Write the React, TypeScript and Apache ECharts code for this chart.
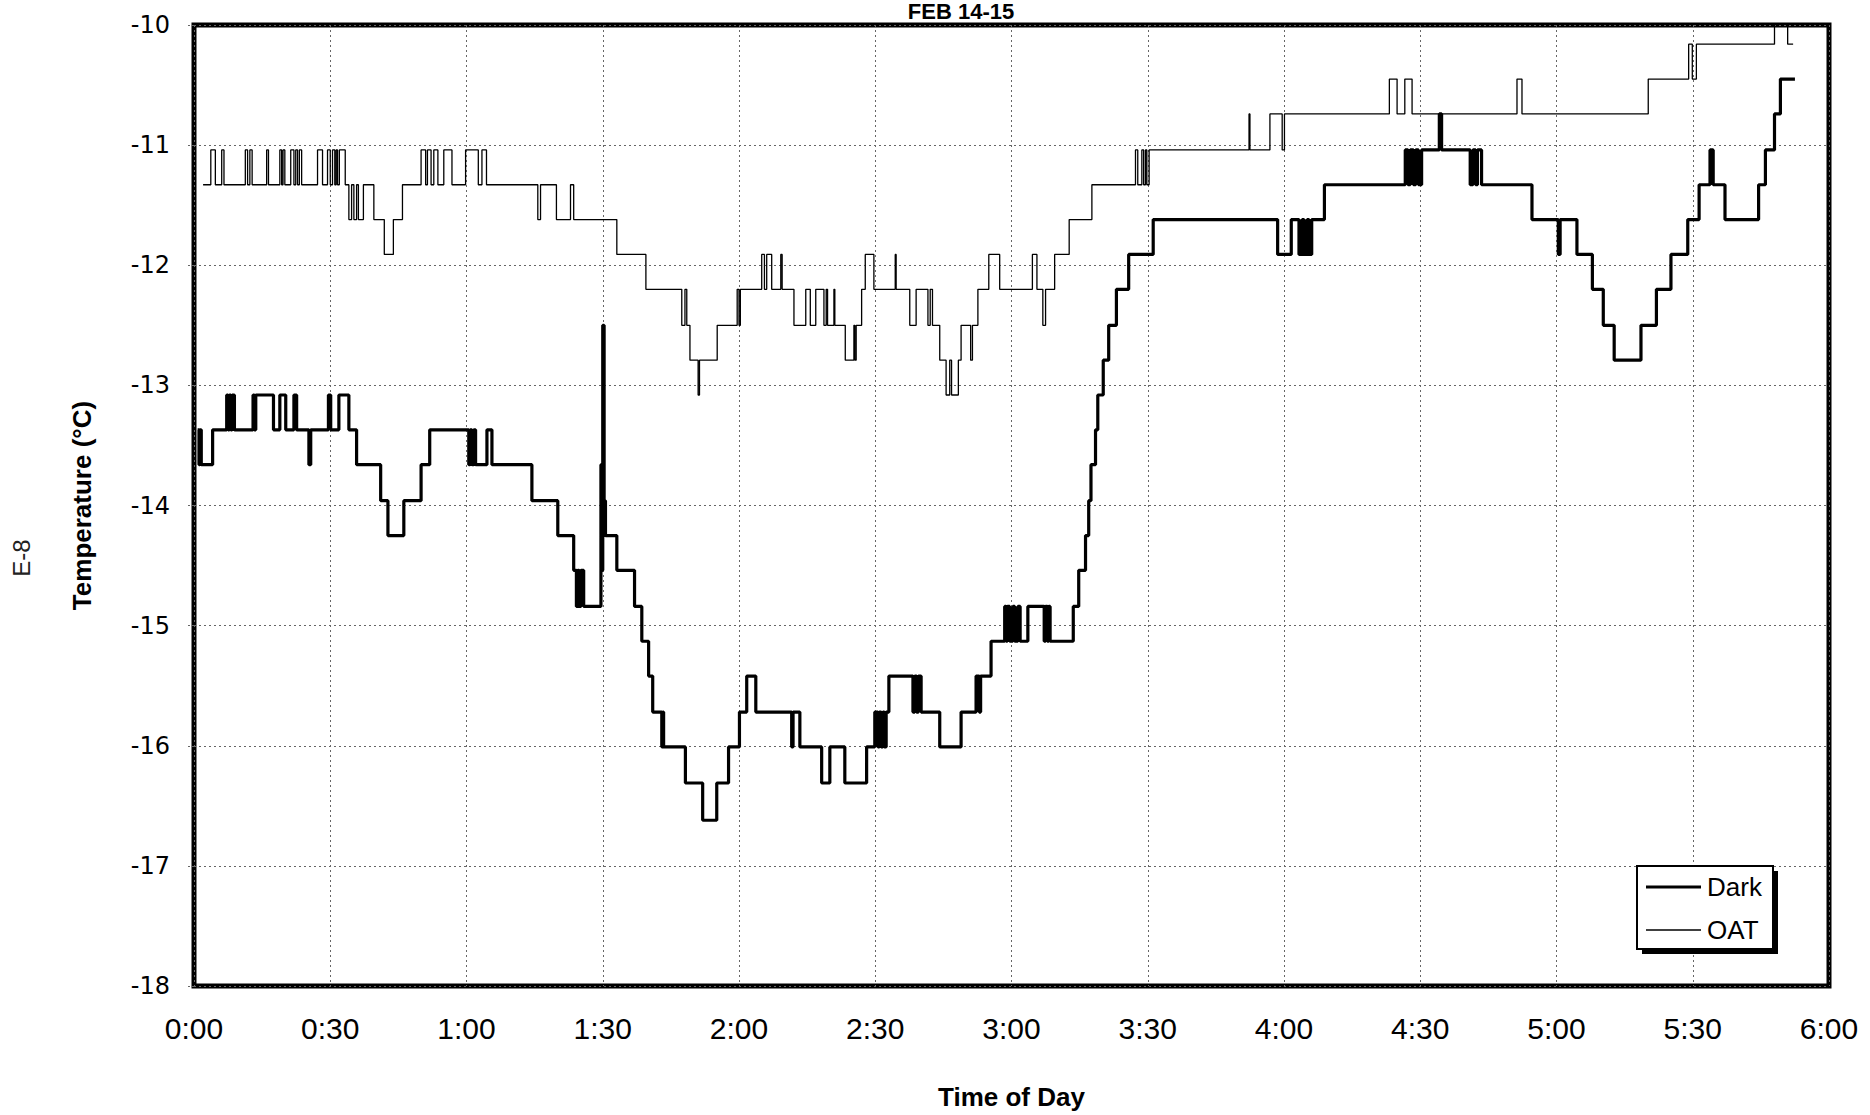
import React, { useEffect, useRef } from "react";
import * as echarts from "echarts";

// ---- data (time in minutes after 0:00, temperature in °C) ----
const xTickLabels = ["0:00", "0:30", "1:00", "1:30", "2:00", "2:30", "3:00", "3:30", "4:00", "4:30", "5:00", "5:30", "6:00"];

const darkTime = [
  0.8, 1.1, 1.3, 1.6, 4.1,
  7.2, 7.5, 7.8, 8.1, 8.4, 8.9,
  13.0, 13.3, 13.6, 17.5, 18.9, 20.2, 22.0, 22.6, 25.3, 25.7,
  29.6, 30.1, 31.9, 34.1, 35.8, 41.1, 42.7, 46.2, 50.0, 51.9,
  60.5, 60.8, 61.2, 61.6, 62.0, 64.5, 65.6, 74.4, 80.1,
  83.6, 84.2, 84.5, 84.8, 85.2, 85.8,
  89.6, 89.8, 90.0, 90.3, 90.6, 93.1, 97.0, 98.6, 100.1, 101.0,
  103.0, 103.2, 103.4, 108.2, 112.0, 115.1, 117.7, 120.1, 121.7, 123.7,
  131.6, 131.9, 133.4, 138.2, 140.0, 143.3, 148.1,
  149.9, 150.6, 150.9, 151.3, 151.7, 152.0, 152.4, 153.0,
  158.3, 158.7, 159.1, 159.5, 160.1, 164.2, 168.9, 172.2, 172.9, 173.2, 175.5,
  178.5, 178.8, 179.1, 179.6, 180.3, 180.7, 181.4, 181.9, 183.6,
  187.2, 187.5, 187.9, 188.2, 188.5,
  193.6, 194.8, 196.3, 197.0, 197.5, 198.5, 199.0, 200.2, 201.4, 203.1, 205.8, 211.2,
  238.6, 241.6, 243.3, 244.0, 244.4, 245.1, 245.5, 246.1, 248.9,
  266.7, 267.3, 267.8, 268.5, 269.0, 269.6, 270.3, 274.2, 274.7,
  281.0, 281.6, 282.2, 282.6, 283.5,
  294.6, 300.4, 300.8, 304.5, 307.9, 310.3, 312.7, 318.6, 322.0, 325.2, 328.9, 331.4,
  333.8, 334.5, 337.1, 344.5, 346.0, 348.0, 349.3, 352.5,
];
const darkTemp = [
  -13.37, -13.66, -13.37, -13.66, -13.37,
  -13.08, -13.37, -13.08, -13.37, -13.08, -13.37,
  -13.08, -13.37, -13.08, -13.37, -13.08, -13.37, -13.08, -13.37, -13.66, -13.37,
  -13.08, -13.37, -13.08, -13.37, -13.66, -13.96, -14.25, -13.96, -13.66, -13.37,
  -13.66, -13.37, -13.66, -13.37, -13.66, -13.37, -13.66, -13.96, -14.25,
  -14.54, -14.84, -14.54, -14.84, -14.54, -14.84,
  -13.66, -14.54, -12.5, -13.96, -14.25, -14.54, -14.84, -15.13, -15.42, -15.72,
  -16.01, -15.72, -16.01, -16.31, -16.62, -16.31, -16.01, -15.72, -15.42, -15.72,
  -16.01, -15.72, -16.01, -16.31, -16.01, -16.31, -16.01,
  -15.72, -16.01, -15.72, -16.01, -15.72, -16.01, -15.72, -15.42,
  -15.72, -15.42, -15.72, -15.42, -15.72, -16.01, -15.72, -15.42, -15.72, -15.42, -15.13,
  -14.84, -15.13, -14.84, -15.13, -14.84, -15.13, -14.84, -15.13, -14.84,
  -15.13, -14.84, -15.13, -14.84, -15.13,
  -14.84, -14.54, -14.25, -13.96, -13.66, -13.37, -13.08, -12.79, -12.5, -12.2, -11.91, -11.62,
  -11.91, -11.62, -11.91, -11.62, -11.91, -11.62, -11.91, -11.62, -11.33,
  -11.04, -11.33, -11.04, -11.33, -11.04, -11.33, -11.04, -10.74, -11.04,
  -11.33, -11.04, -11.33, -11.04, -11.33,
  -11.62, -11.91, -11.62, -11.91, -12.2, -12.5, -12.79, -12.5, -12.2, -11.91, -11.62, -11.33,
  -11.04, -11.33, -11.62, -11.33, -11.04, -10.74, -10.45, -10.45,
];

const oatTime = [
  2.0, 3.7, 4.7, 6.1, 6.6, 11.3, 11.8, 12.3, 12.8, 16.0, 16.4,
  18.9, 19.3, 19.6, 20.0, 21.3, 22.0, 22.4, 22.8, 23.2, 23.7, 27.2, 28.3,
  29.4, 30.0, 30.5, 31.0, 31.3, 31.6, 32.0, 33.3,
  34.1, 34.7, 35.2, 35.8, 36.2, 37.3, 39.6, 41.9, 43.9, 45.9,
  50.0, 51.0, 51.4, 52.2, 52.8, 53.7, 55.0, 56.8, 59.8, 62.6, 63.4, 64.4,
  75.7, 76.3, 79.8, 82.9, 83.6, 93.1, 99.5,
  107.4, 108.1, 108.5, 109.2, 111.0, 111.3, 115.2, 119.6, 120.0, 120.3,
  125.0, 125.6, 126.1, 127.2, 129.2, 129.5,
  132.1, 134.7, 135.7, 136.9, 138.7, 139.2, 139.5, 140.9, 141.1,
  143.4, 145.3, 145.5, 145.8, 147.0, 147.8, 149.7, 154.4, 154.6,
  157.6, 159.0, 161.6, 162.1, 162.6, 164.2, 165.6, 166.4, 166.8, 168.3,
  168.9, 171.0, 171.4, 172.6, 175.0, 177.4,
  184.6, 185.6, 186.9, 187.5, 189.5, 192.7, 197.7,
  207.3, 207.8, 208.7, 209.1, 209.5, 209.8, 210.3,
  232.3, 232.5, 236.9, 239.6, 240.1,
  263.2, 264.9, 266.6, 268.2, 291.3, 292.4, 320.2,
  329.1, 329.9, 330.8, 348.0, 350.9, 352.1,
];
const oatTemp = [
  -11.33, -11.04, -11.33, -11.04, -11.33, -11.04, -11.33, -11.04, -11.33, -11.04, -11.33,
  -11.04, -11.33, -11.04, -11.33, -11.04, -11.33, -11.04, -11.33, -11.04, -11.33, -11.04, -11.33,
  -11.04, -11.33, -11.04, -11.33, -11.04, -11.33, -11.04, -11.33,
  -11.62, -11.33, -11.62, -11.33, -11.62, -11.33, -11.62, -11.91, -11.62, -11.33,
  -11.04, -11.33, -11.04, -11.33, -11.04, -11.33, -11.04, -11.33, -11.04, -11.33, -11.04, -11.33,
  -11.62, -11.33, -11.62, -11.33, -11.62, -11.91, -12.2,
  -12.5, -12.2, -12.5, -12.79, -13.08, -12.79, -12.5, -12.2, -12.5, -12.2,
  -11.91, -12.2, -11.91, -12.2, -11.91, -12.2,
  -12.5, -12.2, -12.5, -12.2, -12.5, -12.2, -12.5, -12.2, -12.5,
  -12.79, -12.5, -12.79, -12.5, -12.2, -11.91, -12.2, -11.91, -12.2,
  -12.5, -12.2, -12.5, -12.2, -12.5, -12.79, -13.08, -12.79, -13.08, -12.79,
  -12.5, -12.79, -12.5, -12.2, -11.91, -12.2,
  -11.91, -12.2, -12.5, -12.2, -11.91, -11.62, -11.33,
  -11.04, -11.33, -11.04, -11.33, -11.04, -11.33, -11.04,
  -10.74, -11.04, -10.74, -11.04, -10.74,
  -10.45, -10.74, -10.45, -10.74, -10.45, -10.74, -10.45,
  -10.16, -10.45, -10.16, -9.87, -10.16, -10.16,
];

const seriesNames = ["Dark", "OAT"];
const titleText = "FEB 14-15";
const pageLabel = "E-8";

const FONT = '"Liberation Sans", Arial, Helvetica, sans-serif';

export default function App() {
  const ref = useRef<HTMLDivElement>(null);

  useEffect(() => {
    if (!ref.current) return;
    const chart = echarts.init(ref.current, undefined, { renderer: "svg" });
    const darkData = darkTime.map((t, i) => [t, darkTemp[i]]);
    const oatData = oatTime.map((t, i) => [t, oatTemp[i]]);

    const gridStyle = { color: "#666", width: 1, type: [2, 3] as any };

    chart.setOption({
      animation: false,
      backgroundColor: "#ffffff",
      grid: {
        left: 194,
        top: 25,
        width: 1635,
        height: 971,
        show: true,
        borderColor: "#000",
        borderWidth: 5,
        backgroundColor: "transparent",
      },
      xAxis: {
        type: "value",
        min: 0,
        max: 360,
        interval: 30,
        axisLine: { show: false },
        axisTick: { show: false },
        splitLine: { show: true, lineStyle: gridStyle },
        axisLabel: {
          margin: 27,
          color: "#000",
          fontSize: 30,
          fontFamily: FONT,
          formatter: (v: number) => xTickLabels[Math.round(v / 30)] ?? "",
        },
        name: "Time of Day",
        nameLocation: "middle",
        nameGap: 98,
        nameTextStyle: { fontWeight: "bold", fontSize: 26, fontFamily: FONT, color: "#000" },
      },
      yAxis: {
        type: "value",
        min: -18,
        max: -10,
        interval: 1,
        axisLine: { show: false },
        axisTick: { show: true, length: 8, lineStyle: { color: "#666", type: [2, 2] as any } },
        splitLine: { show: true, lineStyle: gridStyle },
        axisLabel: {
          margin: 24,
          color: "#000",
          fontSize: 24,
          fontFamily: '"DejaVu Sans", sans-serif',
        },
        name: "Temperature (°C)",
        nameLocation: "middle",
        nameGap: 99,
        nameTextStyle: { fontWeight: "bold", fontSize: 26, fontFamily: FONT, color: "#000" },
      },
      series: [
        {
          name: seriesNames[0],
          type: "line",
          step: "end",
          symbol: "none",
          data: darkData,
          lineStyle: { color: "#000", width: 3.2 },
          z: 3,
        },
        {
          name: seriesNames[1],
          type: "line",
          step: "end",
          symbol: "none",
          data: oatData,
          lineStyle: { color: "#000", width: 1.3 },
          z: 2,
        },
      ],
      graphic: [
        {
          type: "text",
          x: 961,
          y: 11,
          style: {
            text: titleText,
            fill: "#000",
            font: `bold 22px ${FONT}`,
            textAlign: "center",
            textVerticalAlign: "middle",
            align: "center",
            verticalAlign: "middle",
          } as any,
        },
        {
          type: "text",
          x: 21,
          y: 558,
          rotation: Math.PI / 2,
          style: {
            text: pageLabel,
            fill: "#222",
            font: `24px ${FONT}`,
            textAlign: "center",
            textVerticalAlign: "middle",
            align: "center",
            verticalAlign: "middle",
          } as any,
        },
        {
          type: "rect",
          shape: { x: 1642, y: 871, width: 136, height: 83 },
          style: { fill: "#000" },
          z: 10,
        },
        {
          type: "rect",
          shape: { x: 1637, y: 866, width: 136, height: 83 },
          style: { fill: "#fff", stroke: "#000", lineWidth: 2 },
          z: 11,
        },
        {
          type: "line",
          shape: { x1: 1646, y1: 887, x2: 1701, y2: 887 },
          style: { stroke: "#000", lineWidth: 3.2 },
          z: 12,
        },
        {
          type: "line",
          shape: { x1: 1646, y1: 930, x2: 1701, y2: 930 },
          style: { stroke: "#000", lineWidth: 1.3 },
          z: 12,
        },
        {
          type: "text",
          x: 1707,
          y: 887,
          z: 12,
          style: {
            text: seriesNames[0],
            fill: "#000",
            font: `26px ${FONT}`,
            textAlign: "left",
            textVerticalAlign: "middle",
            align: "left",
            verticalAlign: "middle",
          } as any,
        },
        {
          type: "text",
          x: 1707,
          y: 930,
          z: 12,
          style: {
            text: seriesNames[1],
            fill: "#000",
            font: `26px ${FONT}`,
            textAlign: "left",
            textVerticalAlign: "middle",
            align: "left",
            verticalAlign: "middle",
          } as any,
        },
      ],
    });

    return () => chart.dispose();
  }, []);

  return (
    <div
      ref={ref}
      style={{ position: "fixed", left: 0, top: 0, width: 1870, height: 1115, background: "#fff" }}
    />
  );
}
